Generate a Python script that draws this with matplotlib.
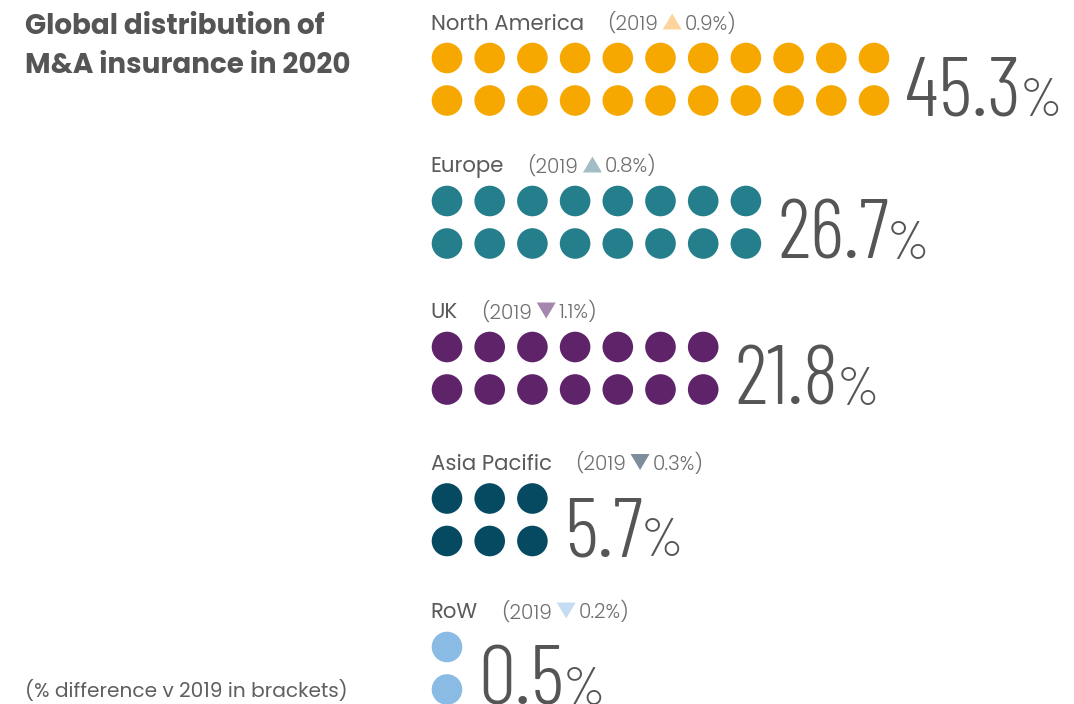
import matplotlib
matplotlib.use("Agg")
import matplotlib.pyplot as plt
from matplotlib import font_manager as fm
from matplotlib.patches import Circle, Polygon
from matplotlib.patheffects import AbstractPathEffect
from matplotlib.transforms import Affine2D

# data
regions = ["North America", "Europe", "UK", "Asia Pacific", "RoW"]
shares = [45.3, 26.7, 21.8, 5.7, 0.5]
change_v_2019 = [0.9, 0.8, -1.1, -0.3, -0.2]
dots_per_row = [11, 8, 7, 3, 1]
dot_colors = ["#F6A800", "#247E8B", "#5E2369", "#064A62", "#89BBE5"]
arrow_colors = ["#FDD49B", "#A3BCC5", "#A586AE", "#7F8C9B", "#C5DCF3"]
title_lines = ["Global distribution of", "M&A insurance in 2020"]
footnote = "(% difference v 2019 in brackets)"


class Squeeze(AbstractPathEffect):
    """narrow the glyphs when no condensed font is around"""
    def __init__(self, sx):
        super().__init__()
        self.sx = sx

    def draw_path(self, renderer, gc, tpath, affine, rgbFace=None):
        x0 = affine.transform([[0, 0]])[0][0]
        t = affine + Affine2D().translate(-x0, 0).scale(self.sx, 1).translate(x0, 0)
        renderer.draw_path(gc, tpath, t, rgbFace)


def pick(candidates, weight):
    # first family that really has a face of this weight (skips variable-only fonts)
    for name in candidates:
        for f in fm.fontManager.ttflist:
            if f.name == name and f.style == "normal" and abs(int(f.weight) - weight) <= 50:
                return [name, "DejaVu Sans"]
    return ["DejaVu Sans"]


geo = ["Montserrat", "Poppins", "Raleway", "Open Sans"]
F_BOLD = pick(geo, 700)
F_REG = pick(geo, 400)
F_LIGHT = pick(geo, 300)

NUM = pick(["Barlow Condensed"], 300)
if NUM[0] == "Barlow Condensed":
    NUM_W, NUM_FX, SX = 300, [], 1.0
else:
    NUM, NUM_W, NUM_FX, SX = ["Roboto", "DejaVu Sans"], "light", [Squeeze(0.68)], 0.68

W, H = 1074, 704
fig = plt.figure(figsize=(W / 100, H / 100), dpi=100)
ax = fig.add_axes([0, 0, 1, 1])
ax.set_xlim(0, W)
ax.set_ylim(H, 0)
ax.axis("off")
renderer = fig.canvas.get_renderer()


def width_of(t):
    return t.get_window_extent(renderer).width


# title + footnote
ax.text(25, 34, title_lines[0], fontsize=20, weight=700, color="#555555",
        family=F_BOLD, va="baseline")
ax.text(25, 73, title_lines[1], fontsize=20, weight=700, color="#555555",
        family=F_BOLD, va="baseline")
ax.text(25, 697, footnote, fontsize=14.5, weight=400, color="#5F5F5F",
        family=F_REG, va="baseline")

x_dot0 = 447
step = 42.7
r = 15.3
row_top = [58, 201, 347, 498.5, 647]
row_gap = 42.5

for i, name in enumerate(regions):
    y1 = row_top[i]
    y2 = y1 + row_gap
    n = dots_per_row[i]
    for k in range(n):
        for yy in (y1, y2):
            ax.add_patch(Circle((x_dot0 + k * step, yy), r, color=dot_colors[i], lw=0))

    # header: region name, then (2019 <triangle> change)
    base = y1 - 28.5
    lab = ax.text(x_dot0 - r - 1, base, name, fontsize=15.3, weight=400, color="#5A5A5A",
                  family=F_REG, va="baseline")
    x = x_dot0 - r - 1 + width_of(lab) + 23
    p1 = ax.text(x, base, "(2019", fontsize=14.5, weight=300, color="#707070",
                 family=F_LIGHT, va="baseline")
    x += width_of(p1) + 5
    tw, th = 19, 16
    if change_v_2019[i] >= 0:
        tri = [(x, base), (x + tw, base), (x + tw / 2, base - th)]
    else:
        tri = [(x, base - th), (x + tw, base - th), (x + tw / 2, base)]
    ax.add_patch(Polygon(tri, closed=True, color=arrow_colors[i], lw=0))
    x += tw + 3
    ax.text(x, base, f"{abs(change_v_2019[i]):.1f}%)", fontsize=14.5, weight=300,
            color="#707070", family=F_LIGHT, va="baseline")

    # big share number with a smaller % sign
    nb = y2 + r
    xn = x_dot0 + (n - 1) * step + r + 16
    num = ax.text(xn, nb, f"{shares[i]:.1f}", fontsize=60.5, weight=NUM_W,
                  color="#555555", family=NUM, va="baseline", path_effects=NUM_FX)
    xp = xn + width_of(num) * SX - 2
    ax.text(xp, nb, "%", fontsize=39, weight=NUM_W, color="#555555",
            family=NUM, va="baseline", path_effects=NUM_FX)

fig.savefig("out.png", dpi=100, facecolor="white")
